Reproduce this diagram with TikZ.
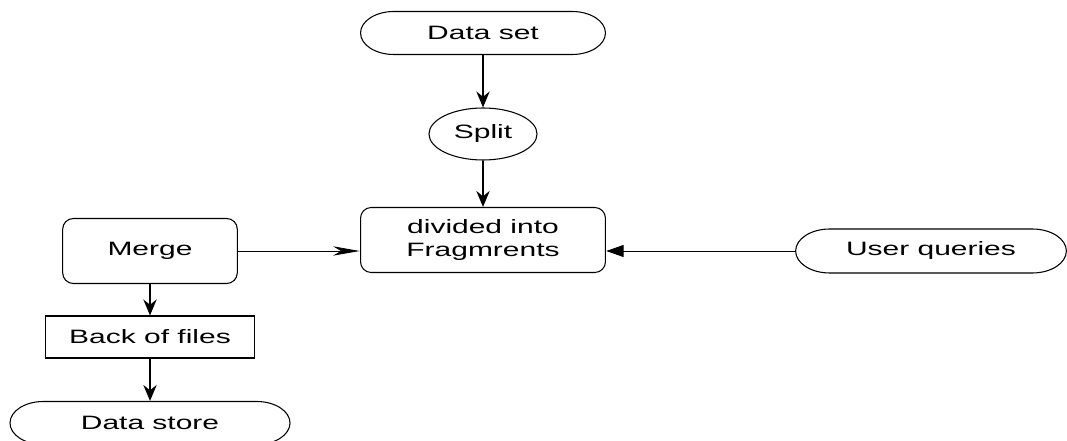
\documentclass[tikz,border=0pt]{standalone}
\usepackage{fontspec}
\setmainfont{Liberation Sans}
\usetikzlibrary{positioning,arrows.meta,shapes.misc,shapes.geometric}

\tikzset{
  wide/.style={transform shape,xscale=1.55},
  terminal/.style={wide,draw,rounded rectangle,minimum width=118.5pt,minimum height=32.25pt,inner sep=0pt},
  procbox/.style={wide,draw,rounded corners=8pt,minimum width=118.5pt,minimum height=48.75pt,align=center,inner sep=0pt},
  flow/.style={-{Stealth[length=12pt,width=10pt,inset=4pt]},line width=1.3pt},
}

\begin{document}
\begin{tikzpicture}[x=0.75pt,y=-0.75pt,line width=0.8pt,font=\fontsize{14.5}{17}\selectfont]
\useasboundingbox (0,0) rectangle (1067,441);
\node[terminal] (dataset) at (483,33) {Data set};
\node[wide,draw,ellipse,minimum width=52.3pt,minimum height=39pt,inner sep=0pt] (split) at (483,134) {Split};
\node[procbox] (frag) at (483,240) {divided into\\Fragmrents};
\node[procbox,minimum width=84.5pt] (merge) at (150,251) {Merge};
\node[terminal,minimum width=131pt,minimum height=33pt] (queries) at (931,251) {User queries};
\node[wide,draw,minimum width=101.3pt,minimum height=31.5pt,inner sep=0pt] (backup) at (150,337) {Back of files};
\node[terminal,minimum width=135.5pt] (store) at (150,423) {Data store};
\draw[flow] (dataset) -- (split);
\draw[flow] (split) -- (frag);
\draw[-{Stealth[length=20pt,width=7pt,inset=6pt]},line width=0.6pt] (merge.east) -- (merge.east -| frag.west);
\draw[-{Triangle[length=13pt,width=9pt]},line width=0.6pt] (queries.west) -- (queries.west -| frag.east);
\draw[flow] (merge) -- (backup);
\draw[flow] (backup) -- (store);
\end{tikzpicture}
\end{document}
